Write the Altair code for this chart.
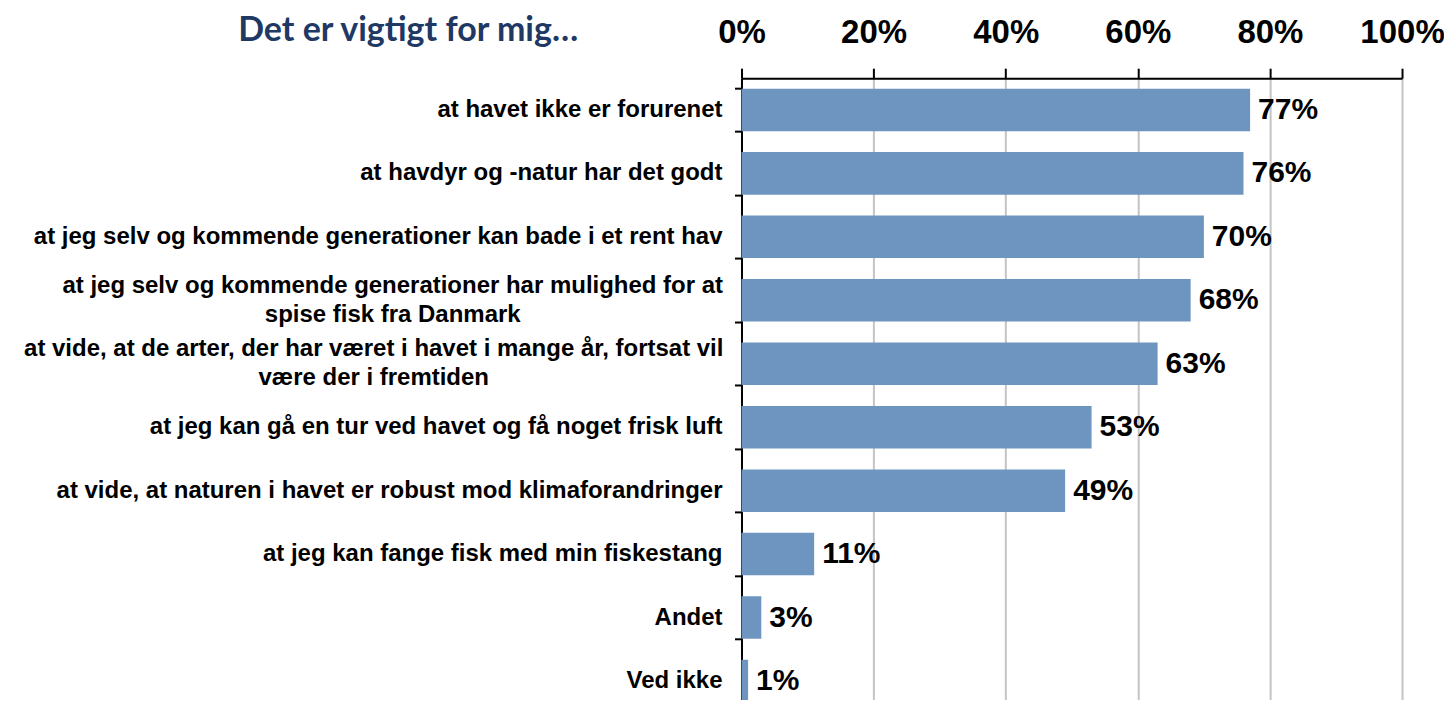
import json
import altair as alt
import pandas as pd

categories = [
    "at havet ikke er forurenet",
    "at havdyr og -natur har det godt",
    "at jeg selv og kommende generationer kan bade i et rent hav",
    "at jeg selv og kommende generationer har mulighed for at\nspise fisk fra Danmark",
    "at vide, at de arter, der har været i havet i mange år, fortsat vil\nvære der i fremtiden",
    "at jeg kan gå en tur ved havet og få noget frisk luft",
    "at vide, at naturen i havet er robust mod klimaforandringer",
    "at jeg kan fange fisk med min fiskestang",
    "Andet",
    "Ved ikke",
]
values = [77, 76, 70, 68, 63, 53, 49, 11, 3, 1]
tick_values = [0, 0.2, 0.4, 0.6, 0.8, 1.0]
title_text = "Det er vigtigt for mig…"

df = pd.DataFrame({
    "kategori": categories,
    "andel": [v / 100 for v in values],
    "tekst": [f"{v}%" for v in values],
})

FONT = "Liberation Sans"
LABEL_X = -19
LINE_H = 29
# approximate rendered width (px) of the first line of each two-line label,
# so that the second line is centred under the first, as in the original
first_line_width = {categories[3]: 660, categories[4]: 698}

y_enc = alt.Y(
    "kategori:N",
    sort=None,
    scale=alt.Scale(paddingInner=0.33, paddingOuter=0.165, range=[0, 635]),
    axis=alt.Axis(
        title=None,
        labels=False,
        tickBand="extent",
        tickSize=7,
        tickColor="black",
        tickWidth=2,
        domainColor="black",
        domainWidth=2,
        grid=False,
    ),
)

base = alt.Chart(df).encode(y=y_enc)

bars = base.mark_bar(color="#6E95C0").encode(
    x=alt.X(
        "andel:Q",
        scale=alt.Scale(domain=[0, 1], nice=False),
        axis=alt.Axis(
            orient="top",
            format="%",
            values=tick_values,
            labelFlush=False,
            grid=True,
            gridColor="#C4C4C4",
            gridWidth=2,
            labelFont=FONT,
            labelFontSize=33,
            labelFontWeight="bold",
            labelColor="black",
            labelPadding=19,
            tickSize=10,
            tickWidth=2,
            tickColor="black",
            domainColor="black",
            domainWidth=2,
            title=title_text,
            titleX=-164,
            titleY=-48,
            titleAlign="right",
            titleBaseline="middle",
            titleAngle=0,
            titleFont="Lato",
            titleFontSize=34,
            titleFontWeight="bold",
            titleColor="#203864",
        ),
    )
)

values_text = base.mark_text(
    align="left", baseline="middle", dx=8,
    font=FONT, fontSize=30, fontWeight="bold", color="black",
).encode(
    x="andel:Q",
    text="tekst:N",
)

label_style = dict(
    baseline="middle", lineBreak="\n", lineHeight=LINE_H,
    font=FONT, fontSize=24, fontWeight="bold", color="black",
)

single_labels = base.mark_text(align="right", **label_style).encode(
    x=alt.value(LABEL_X),
    text="kategori:N",
).transform_filter("indexof(datum.kategori, '\\n') < 0")

layers = [bars, values_text, single_labels]
for cat, w in first_line_width.items():
    layers.append(
        base.mark_text(align="center", dx=-w / 2, dy=-LINE_H / 2, **label_style)
        .encode(x=alt.value(LABEL_X), text="kategori:N")
        .transform_filter(f"datum.kategori == {json.dumps(cat)}")
    )

chart = alt.layer(*layers).properties(
    width=661,
    height=622,
    padding={"left": 734, "top": 70, "right": 42, "bottom": 0},
    autosize=alt.AutoSizeParams(type="none"),
).configure_view(stroke=None)

chart.save("out.html", embed_options={"renderer": "svg", "actions": False})
